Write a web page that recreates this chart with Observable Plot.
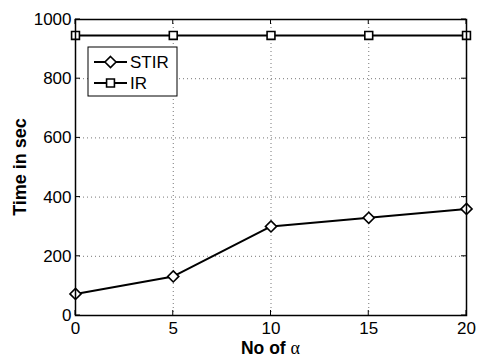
<!DOCTYPE html>
<html><head><meta charset="utf-8">
<script src="https://cdn.jsdelivr.net/npm/d3@7"></script>
<script src="https://cdn.jsdelivr.net/npm/@observablehq/plot@0.6"></script>
<style>body{margin:0;background:#fff;} svg{display:block}</style>
</head><body><div id="chart"></div>
<script>
const alphaCounts = [0, 5, 10, 15, 20];
const stirTimes = [73, 132, 301, 330, 360];
const irTimes = [946, 946, 946, 946, 946];
const xTicks = [0, 5, 10, 15, 20];
const yTicks = [0, 200, 400, 600, 800, 1000];
const seriesNames = ["STIR", "IR"];
const seriesSymbols = ["diamond2", "square2"];

const rows = [
  ...alphaCounts.map((a, i) => ({alpha: a, time: stirTimes[i], series: "STIR"})),
  ...alphaCounts.map((a, i) => ({alpha: a, time: irTimes[i], series: "IR"}))
];
const font = "'Liberation Sans', Arial, Helvetica, sans-serif";
const W = 478, H = 360, mL = 75, mR = 12, mT = 19, mB = 45;
const tickFont = 17;

const chart = Plot.plot({
  width: W, height: H, marginLeft: mL, marginRight: mR, marginTop: mT, marginBottom: mB,
  style: {fontFamily: font, fontSize: tickFont + "px", background: "white", color: "black"},
  x: {domain: [0, 20], ticks: xTicks, label: null},
  y: {domain: [0, 1000], ticks: yTicks, label: null},
  marks: [
    Plot.gridX(xTicks, {stroke: "#777", strokeOpacity: 1, strokeDasharray: "1,3"}),
    Plot.gridY(yTicks, {stroke: "#777", strokeOpacity: 1, strokeDasharray: "1,3"}),
    Plot.axisX({ticks: xTicks, tickSize: 0, tickPadding: 6, label: null, fontSize: tickFont, tickFormat: d => String(d)}),
    Plot.axisY({ticks: yTicks, tickSize: 0, tickPadding: 4, label: null, fontSize: tickFont, tickFormat: d => String(d)}),
    Plot.line(rows, {x: "alpha", y: "time", z: "series", stroke: "black", strokeWidth: 2}),
    Plot.dot(rows.filter(d => d.series === "STIR"), {x: "alpha", y: "time", symbol: () => seriesSymbols[0], r: 5, stroke: "black", fill: "white", strokeWidth: 1.6}),
    Plot.dot(rows.filter(d => d.series === "IR"), {x: "alpha", y: "time", symbol: () => seriesSymbols[1], r: 5, stroke: "black", fill: "white", strokeWidth: 1.6}),
    Plot.frame({stroke: "black", strokeWidth: 1.5})
  ]
});

const svg = d3.select(chart);
const sx = chart.scale("x"), sy = chart.scale("y");
const [x0, x1] = sx.range, [y0, y1] = sy.range; // y0 bottom, y1 top
const tickLen = 5;
const tg = svg.append("g").attr("stroke", "black").attr("stroke-width", 1);
xTicks.forEach(t => {
  const px = sx.apply(t);
  tg.append("line").attr("x1", px).attr("x2", px).attr("y1", y0).attr("y2", y0 - tickLen);
  tg.append("line").attr("x1", px).attr("x2", px).attr("y1", y1).attr("y2", y1 + tickLen);
});
yTicks.forEach(t => {
  const py = sy.apply(t);
  tg.append("line").attr("y1", py).attr("y2", py).attr("x1", x0).attr("x2", x0 + tickLen);
  tg.append("line").attr("y1", py).attr("y2", py).attr("x1", x1).attr("x2", x1 - tickLen);
});

// axis labels
const xl = svg.append("text").attr("x", (x0 + x1) / 2).attr("y", 354)
  .attr("text-anchor", "middle").attr("font-family", font).attr("font-size", 17.5).attr("fill", "black");
xl.append("tspan").attr("font-weight", "bold").text("No of ");
xl.append("tspan").attr("font-family", "'Liberation Serif', 'DejaVu Serif', serif").attr("font-size", 18).text("α");

svg.append("text").attr("transform", `translate(26,${(y0 + y1) / 2}) rotate(-90)`)
  .attr("text-anchor", "middle").attr("font-family", font).attr("font-size", 18)
  .attr("font-weight", "bold").attr("fill", "black").text("Time in sec");

// legend
const lg = svg.append("g");
lg.append("rect").attr("x", 88).attr("y", 47).attr("width", 89).attr("height", 49)
  .attr("fill", "white").attr("stroke", "black").attr("stroke-width", 1);
seriesNames.forEach((name, i) => {
  const cy = 62 + i * 21;
  lg.append("line").attr("x1", 94).attr("x2", 127).attr("y1", cy).attr("y2", cy)
    .attr("stroke", "black").attr("stroke-width", 2);
  const sym = i === 0 ? d3.symbolDiamond2 : d3.symbolSquare2;
  lg.append("path").attr("d", d3.symbol(sym, Math.PI * 25)())
    .attr("transform", `translate(110.5,${cy})`).attr("fill", "white")
    .attr("stroke", "black").attr("stroke-width", 1.6);
  lg.append("text").attr("x", 130).attr("y", cy).attr("dy", "0.36em").attr("text-anchor", "start")
    .attr("font-family", font).attr("font-size", 17).attr("fill", "black").text(name);
});

document.getElementById("chart").appendChild(chart);
</script>
</body></html>
